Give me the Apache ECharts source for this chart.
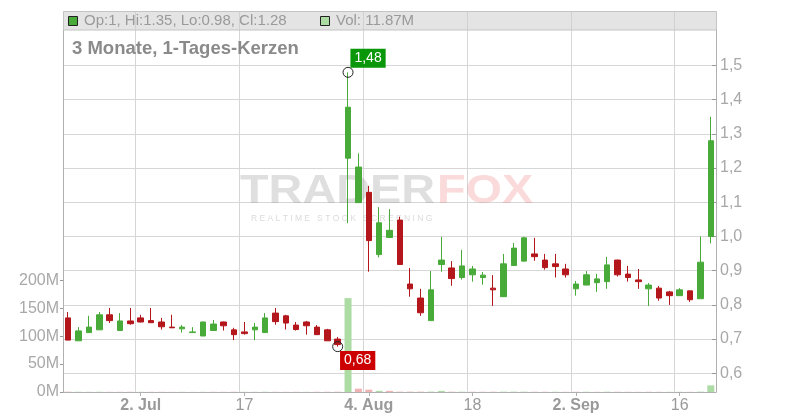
<!DOCTYPE html>
<html><head><meta charset="utf-8">
<script src="https://cdn.jsdelivr.net/npm/echarts@6/dist/echarts.min.js"></script>
<style>html,body{margin:0;padding:0;background:#fff}#c{width:800px;height:420px}</style>
</head><body><div id="c"></div>
<script>
const dates = [
'2025-06-23','2025-06-24','2025-06-25','2025-06-26','2025-06-27','2025-06-30',
'2025-07-01','2025-07-02','2025-07-03','2025-07-07','2025-07-08','2025-07-09','2025-07-10','2025-07-11',
'2025-07-14','2025-07-15','2025-07-16','2025-07-17','2025-07-18','2025-07-21','2025-07-22','2025-07-23',
'2025-07-24','2025-07-25','2025-07-28','2025-07-29','2025-07-30','2025-07-31',
'2025-08-01','2025-08-04','2025-08-05','2025-08-06','2025-08-07','2025-08-08','2025-08-11','2025-08-12',
'2025-08-13','2025-08-14','2025-08-15','2025-08-18','2025-08-19','2025-08-20','2025-08-21','2025-08-22',
'2025-08-25','2025-08-26','2025-08-27','2025-08-28','2025-08-29',
'2025-09-02','2025-09-03','2025-09-04','2025-09-05','2025-09-08','2025-09-09','2025-09-10','2025-09-11',
'2025-09-12','2025-09-15','2025-09-16','2025-09-17','2025-09-18','2025-09-19'
];
const opens = [0.762,0.695,0.719,0.727,0.771,0.725,0.753,0.762,0.754,0.750,0.735,0.730,0.719,0.709,0.725,0.750,0.727,0.721,0.727,0.719,0.776,0.768,0.741,0.750,0.735,0.727,0.700,
1.229,1.099,1.129,0.947,0.997,1.048,0.861,0.820,0.754,0.918,0.908,0.880,0.888,0.880,0.849,0.824,0.915,0.928,0.949,0.931,0.920,0.905,
0.847,0.858,0.865,0.868,0.931,0.890,0.873,0.847,0.849,0.838,0.827,0.841,0.818,1.00];
const closes = [0.697,0.724,0.735,0.771,0.754,0.753,0.745,0.750,0.748,0.736,0.733,0.735,0.721,0.750,0.744,0.739,0.713,0.716,0.735,0.762,0.751,0.747,0.728,0.739,0.713,0.695,0.684,
1.378,1.203,0.988,1.040,1.018,0.918,0.847,0.777,0.844,0.931,0.877,0.914,0.905,0.887,0.844,0.920,0.966,0.996,0.941,0.909,0.912,0.888,
0.861,0.888,0.876,0.917,0.888,0.880,0.868,0.858,0.820,0.827,0.844,0.815,0.925,1.28];
const lows = [0.697,0.695,0.719,0.727,0.747,0.725,0.742,0.749,0.748,0.728,0.733,0.719,0.719,0.709,0.725,0.725,0.697,0.713,0.697,0.719,0.742,0.728,0.725,0.713,0.713,0.695,0.678,
1.039,1.099,0.897,0.939,0.997,0.917,0.824,0.768,0.754,0.897,0.856,0.874,0.868,0.859,0.797,0.824,0.915,0.926,0.929,0.903,0.880,0.880,
0.827,0.858,0.838,0.847,0.883,0.868,0.847,0.797,0.812,0.800,0.827,0.809,0.818,0.98];
const highs = [0.779,0.735,0.768,0.779,0.791,0.776,0.791,0.771,0.791,0.762,0.771,0.741,0.735,0.751,0.756,0.751,0.733,0.750,0.747,0.776,0.791,0.771,0.750,0.753,0.741,0.730,0.706,
1.480,1.243,1.148,1.086,1.080,1.058,0.908,0.847,0.899,0.999,0.928,0.961,0.914,0.896,0.887,0.949,0.981,0.999,0.996,0.949,0.949,0.920,
0.870,0.899,0.891,0.940,0.932,0.914,0.905,0.864,0.855,0.841,0.849,0.841,1.000,1.35];
// volume in millions
const volumes = [0.5,0.4,0.3,0.4,0.3,0.3,0.4,0.3,0.3,0.3,0.2,0.3,0.2,0.3,0.3,0.3,0.4,0.3,0.3,0.4,0.3,0.3,0.3,0.3,0.4,0.4,0.5,
168,5.9,4.2,2.0,2.0,0.6,0.6,0.6,0.7,2.0,0.5,0.5,0.4,0.4,0.5,0.6,0.6,0.5,0.4,0.4,0.4,0.3,
0.4,0.4,0.3,0.5,0.4,0.3,0.3,0.4,0.3,0.3,0.3,0.3,0.6,11.87];
const xTickLabels = {'2025-07-02':'2. Jul','2025-07-17':'17','2025-08-04':'4. Aug','2025-08-18':'18','2025-09-02':'2. Sep','2025-09-16':'16'};
const boldTickDates = ['2025-07-02','2025-08-04','2025-09-02'];
const priceTicks = [0.6,0.7,0.8,0.9,1.0,1.1,1.2,1.3,1.4,1.5];
const volumeTicks = [0,50,100,150,200];
const titleText = '3 Monate, 1-Tages-Kerzen';
const legendText = 'Op:1, Hi:1.35, Lo:0.98, Cl:1.28';
const volLegendText = 'Vol: 11.87M';
const highPoint = [27, 1.48];
const lowPoint = [26, 0.678];

const FONT = '"Liberation Sans", Arial, sans-serif';
const UP = '#48aa38', DOWN = '#b3161b';
const VUP = '#acdca4', VDOWN = '#f0b2b2';
const showTick = (i) => xTickLabels[dates[i]] !== undefined;
const comma = (v, d) => v.toFixed(d).replace('.', ',');

const candleData = dates.map((d, i) => [opens[i], closes[i], lows[i], highs[i]]);
const volData = volumes.map((v, i) => {
  const prev = i > 0 ? closes[i - 1] : opens[i];
  return { value: v, itemStyle: { color: closes[i] >= prev ? VUP : VDOWN } };
});

const chart = echarts.init(document.getElementById('c'), null, { renderer: 'canvas' });
chart.setOption({
  animation: false,
  backgroundColor: '#fff',
  textStyle: { fontFamily: FONT },
  grid: { left: 63, right: 84, top: 12, bottom: 28, containLabel: false },
  xAxis: {
    type: 'category', data: dates, boundaryGap: true,
    axisLine: { lineStyle: { color: '#b0b0b0' } },
    axisTick: { show: true, interval: (i) => showTick(i), alignWithLabel: true, length: 4, lineStyle: { color: '#b0b0b0' } },
    axisLabel: {
      interval: (i) => showTick(i), margin: 6, color: '#9a9a9a', fontSize: 16, fontFamily: FONT,
      formatter: (v) => boldTickDates.includes(v) ? '{b|' + xTickLabels[v] + '}' : (xTickLabels[v] || ''),
      rich: { b: { fontWeight: 'bold', fontSize: 16, color: '#9a9a9a', fontFamily: FONT } }
    },
    splitLine: { show: true, interval: (i) => showTick(i), lineStyle: { color: '#d6d6d6', width: 1 } }
  },
  yAxis: [
    {
      type: 'value', position: 'right', min: 0.5453, max: 1.6564, scale: true,
      axisLine: { show: true, lineStyle: { color: '#b0b0b0' } },
      axisTick: { show: true, inside: true, length: 4, customValues: priceTicks, lineStyle: { color: '#999' } },
      axisLabel: { customValues: priceTicks, margin: 4, color: '#a8a8a8', fontSize: 16, fontFamily: FONT, formatter: (v) => comma(v, 1) },
      splitLine: { show: true, lineStyle: { color: '#d6d6d6', width: 1 } }
    },
    {
      type: 'value', position: 'left', min: 0, max: 680,
      axisLine: { show: true, lineStyle: { color: '#b0b0b0' } },
      axisTick: { show: true, inside: false, length: 3, customValues: volumeTicks, lineStyle: { color: '#999' } },
      axisLabel: { customValues: volumeTicks, margin: 4, color: '#a8a8a8', fontSize: 16, fontFamily: FONT, formatter: (v) => v + 'M' },
      splitLine: { show: false }
    }
  ],
  graphic: [
    { type: 'text', z: 1, x: 240, y: 172, scaleX: 1.17, style: { text: 'TRADER', font: 'bold 40px ' + FONT, fill: 'rgba(150,150,150,0.3)', align: 'left', verticalAlign: 'top' } },
    { type: 'text', z: 1, x: 437, y: 172, scaleX: 1.17, style: { text: 'FOX', font: 'bold 40px ' + FONT, fill: 'rgba(235,100,100,0.24)', align: 'left', verticalAlign: 'top' } },
    { type: 'text', z: 1, x: 251, y: 219, style: { text: 'R E A L T I M E   S T O C K   S C R E E N I N G', font: '8.5px ' + FONT, fill: 'rgba(150,150,150,0.35)', align: 'left', verticalAlign: 'middle' } },
    { type: 'rect', z: 10, shape: { x: 63.5, y: 11.5, width: 653, height: 18.5 }, style: { fill: 'rgba(205,205,205,0.55)', stroke: '#c4c4c4', lineWidth: 1 } },
    { type: 'rect', z: 11, shape: { x: 68.5, y: 16.5, width: 9, height: 9 }, style: { fill: UP, stroke: '#222', lineWidth: 1 } },
    { type: 'text', z: 11, left: 84, top: 13, style: { text: legendText, font: '15px ' + FONT, fill: '#9a9a9a' } },
    { type: 'rect', z: 11, shape: { x: 320.5, y: 16.5, width: 9, height: 9 }, style: { fill: VUP, stroke: '#222', lineWidth: 1 } },
    { type: 'text', z: 11, left: 336, top: 13, style: { text: volLegendText, font: '15px ' + FONT, fill: '#9a9a9a' } },
    { type: 'text', z: 11, left: 72, top: 39, style: { text: titleText, font: 'bold 18.5px ' + FONT, fill: '#8a8a8a' } }
  ],
  series: [
    {
      type: 'bar', yAxisIndex: 1, data: volData, barWidth: 7, z: 2, silent: true
    },
    {
      type: 'candlestick', yAxisIndex: 0, data: candleData, barWidth: 6, z: 3,
      itemStyle: { color: UP, color0: DOWN, borderColor: UP, borderColor0: DOWN, borderWidth: 1 }
    },
    {
      type: 'scatter', yAxisIndex: 0, z: 5, symbol: 'circle', symbolSize: 10, silent: true,
      itemStyle: { color: 'rgba(255,255,255,0)', borderColor: '#222', borderWidth: 1, opacity: 1 },
      data: [
        { value: highPoint, label: { offset: [20, -14], backgroundColor: '#0a980a' } },
        { value: lowPoint, label: { offset: [20, 14], backgroundColor: '#cc0000' } }
      ],
      label: {
        show: true, position: 'inside', color: '#fff', fontSize: 14, fontFamily: FONT, padding: [3, 4, 2, 4],
        formatter: (p) => comma(p.value[1], 2)
      }
    }
  ]
});
</script></body></html>
